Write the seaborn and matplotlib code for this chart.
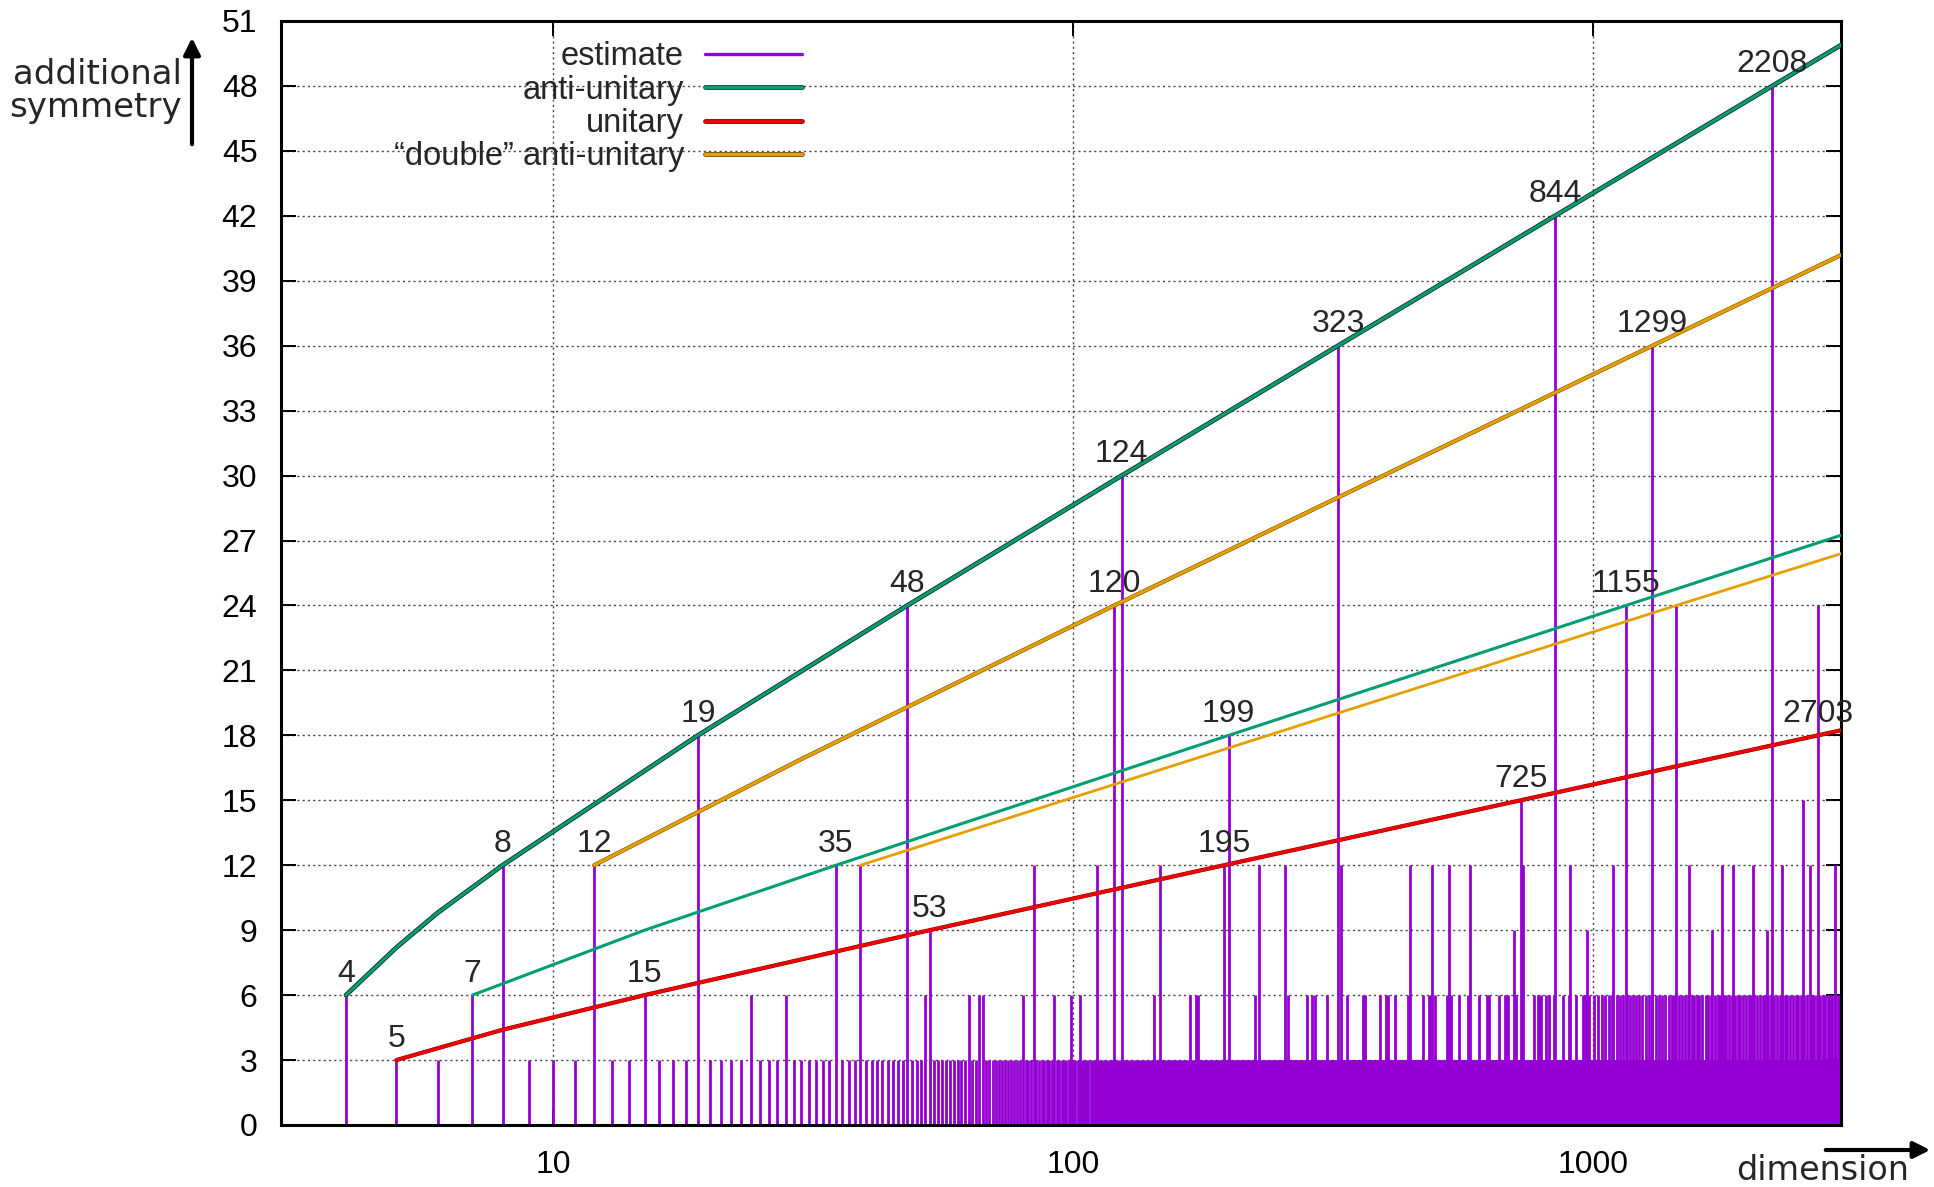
import numpy as np
import pandas as pd
import matplotlib
matplotlib.use("Agg")
import matplotlib.pyplot as plt
import matplotlib.patheffects as pe
from matplotlib.lines import Line2D
from matplotlib.patches import FancyArrowPatch
from matplotlib.ticker import FixedLocator, NullLocator
import seaborn as sns

# ──────────────────────────────
# Data
# ──────────────────────────────
# every dimension in range carries at least 3 (solid band)
base_dims = np.arange(4, 3001)
base_level = 3

level_6 = [4, 7, 15, 24, 28, 52, 63, 66, 67, 80, 92, 99, 103, 143,
           168, 172, 174, 224, 259, 281, 288, 292, 308, 336, 360, 364, 389,
           399, 403, 416, 440, 470, 483, 487, 497, 523, 532,
           551, 575, 604, 624, 628, 631, 658, 675, 679, 685, 710, 770, 783, 787,
           793, 811, 823, 840, 873, 899, 926, 954, 960, 964, 968, 980,
           1005, 1023, 1040, 1052, 1070, 1088, 1110, 1125, 1140, 1159, 1175,
           1190, 1210, 1224, 1240, 1262, 1280, 1295, 1320, 1340, 1355, 1372,
           1395, 1415, 1430, 1460, 1480, 1500, 1520, 1545, 1560, 1580, 1599,
           1620, 1645, 1665, 1684, 1710, 1735, 1750, 1780, 1800, 1820, 1848,
           1870, 1895, 1915, 1939, 1965, 1990, 2010, 2040, 2065, 2090, 2115,
           2140, 2170, 2195, 2230, 2255, 2280, 2303, 2335, 2360, 2390, 2420,
           2450, 2480, 2510, 2540, 2570, 2630, 2660, 2690, 2730, 2760, 2790,
           2820, 2850, 2880, 2915, 2950, 2985]
level_9 = [53, 703, 971, 1693, 2159]
level_12 = [8, 12, 35, 39, 84, 111, 147, 195, 228, 255, 327, 444, 489, 528, 579,
            728, 732, 903, 1092, 1524, 1767, 1852, 2028, 2307, 2604, 2919]
level_15 = [725, 2526]
level_18 = [19, 199]
level_24 = [48, 120, 1155, 1443, 2703]
level_30 = [124]
level_36 = [323, 1299]
level_42 = [844]
level_48 = [2208]

# curves: dimension / symmetry points along each line
anti1_d = [4, 5, 6, 8, 19, 48, 124, 323, 844, 2208, 3000]
anti1_y = [6, 8.2, 9.8, 12, 18, 24, 30, 36, 42, 48, 49.9]
anti2_d = [7, 15, 35, 199, 1155, 3000]
anti2_y = [6, 9.0, 12, 18, 24, 27.25]
unit_d = [5, 8, 15, 53, 195, 725, 2703, 3000]
unit_y = [3, 4.4, 6, 9, 12, 15, 18, 18.24]
dbl1_d = [12, 30, 120, 1299, 3000]
dbl1_y = [12, 16.9, 24, 36, 40.2]
dbl2_d = [39, 1443, 3000]
dbl2_y = [12, 24, 26.4]

label_d = [4, 5, 7, 8, 12, 15, 19, 35, 48, 53, 120, 124, 195, 199, 323, 725,
           844, 1155, 1299, 2208, 2703]
label_y = [6, 3, 6, 12, 12, 6, 18, 12, 24, 9, 24, 30, 12, 18, 36, 15,
           42, 24, 36, 48, 18]

PURPLE = "#9400d3"
GREEN = "#009e73"
RED = "#f00000"
ORANGE = "#e69f00"

# ──────────────────────────────
# Build the impulse table
# ──────────────────────────────
est = pd.Series(base_level, index=base_dims)
for lvl, dims in [(6, level_6), (9, level_9), (12, level_12), (15, level_15),
                  (18, level_18), (24, level_24), (30, level_30), (36, level_36),
                  (42, level_42), (48, level_48)]:
    est.loc[dims] = lvl
df = est.rename("symmetry").rename_axis("dimension").reset_index()

# ──────────────────────────────
# Figure
# ──────────────────────────────
sns.set_theme(style="ticks")
plt.rcParams["font.family"] = ["Liberation Sans", "DejaVu Sans"]

W, H = 1934, 1187
fig = plt.figure(figsize=(W / 100, H / 100), dpi=100)
L, R, T, B = 281, 1841.5, 21, 1125
ax = fig.add_axes([L / W, 1 - B / H, (R - L) / W, (B - T) / H])

ax.vlines(df["dimension"], 0, df["symmetry"], color=PURPLE, lw=2.0, zorder=2)

outline = [pe.Stroke(linewidth=3.4, foreground="#1c2b26"), pe.Normal()]
sns.lineplot(x=anti2_d, y=anti2_y, ax=ax, color=GREEN, lw=2.2, zorder=3)
sns.lineplot(x=dbl2_d, y=dbl2_y, ax=ax, color=ORANGE, lw=2.0, zorder=3)
sns.lineplot(x=unit_d, y=unit_y, ax=ax, color=RED, lw=2.4, zorder=3,
             path_effects=[pe.Stroke(linewidth=3.0, foreground="#7a0000"), pe.Normal()])
sns.lineplot(x=dbl1_d, y=dbl1_y, ax=ax, color=ORANGE, lw=2.2, zorder=3,
             path_effects=[pe.Stroke(linewidth=3.0, foreground="#7a5200"), pe.Normal()])
sns.lineplot(x=anti1_d, y=anti1_y, ax=ax, color=GREEN, lw=2.2, zorder=3,
             path_effects=outline)

for d, v in zip(label_d, label_y):
    ax.text(d, v + 0.3, str(d), ha="center", va="bottom", fontsize=23, zorder=5)

ax.set_xscale("log")
ax.set_xlim(3, 3000)
ax.set_ylim(0, 51)
ax.xaxis.set_major_locator(FixedLocator([10, 100, 1000]))
ax.xaxis.set_minor_locator(NullLocator())
ax.set_xticklabels(["10", "100", "1000"])
ax.set_yticks(np.arange(0, 52, 3))
ax.set_xlabel("")
ax.set_ylabel("")

ax.grid(True, which="major", color="#444444", lw=1.0, ls=(0, (1.5, 2.3)))
ax.set_axisbelow(True)
for s in ax.spines.values():
    s.set_linewidth(2.2)
    s.set_color("black")
    s.set_visible(True)
ax.tick_params(axis="both", direction="in", length=11, width=1.4, top=True,
               right=True, labelsize=23, colors="black")
ax.tick_params(axis="y", pad=17)
ax.tick_params(axis="x", pad=18)


def fx(x):
    return x / W


def fy(y):
    return 1 - y / H


# legend (text right-aligned, sample on the right)
leg_rows = [("estimate", PURPLE, None),
            ("anti-unitary", GREEN, "#1c2b26"),
            ("unitary", RED, "#5a0000"),
            ("\u201cdouble\u201d anti-unitary", ORANGE, "#5a3d00")]
for i, (txt, col, edge) in enumerate(leg_rows):
    base = 65 + i * 33.5
    fig.text(fx(684), fy(base), txt, ha="right", va="baseline", fontsize=23.5)
    effects = [pe.Stroke(linewidth=3.4, foreground=edge), pe.Normal()] if edge else None
    fig.add_artist(Line2D([fx(705), fx(802)], [fy(base - 11.5)] * 2, color=col,
                          lw=2.4, path_effects=effects))

# axis labels with arrows
fig.text(fx(182), fy(91), "additional\nsymmetry", ha="right", va="center",
         fontsize=24.5, family="DejaVu Sans", linespacing=1.0)
fig.add_artist(FancyArrowPatch(
    (fx(192), fy(147)), (fx(192), fy(35)), transform=fig.transFigure,
    arrowstyle="-|>,head_length=10,head_width=5", color="black", lw=3))
fig.text(fx(1823), fy(1170), "dimension", ha="center", va="center",
         fontsize=24, family="DejaVu Sans")
fig.add_artist(FancyArrowPatch(
    (fx(1823), fy(1150)), (fx(1933), fy(1150)), transform=fig.transFigure,
    arrowstyle="-|>,head_length=10,head_width=5", color="black", lw=3))

fig.savefig("out.png", dpi=100)
